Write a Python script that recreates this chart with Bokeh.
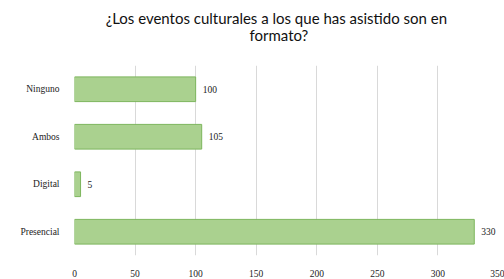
from bokeh.plotting import figure
from bokeh.models import ColumnDataSource, LabelSet, FactorRange, Range1d, FixedTicker, Label
from bokeh.layouts import column
from bokeh.embed import file_html
from bokeh.resources import INLINE

categories = ["Ninguno", "Ambos", "Digital", "Presencial"]
values = [100, 105, 5, 330]
x_ticks = [0, 50, 100, 150, 200, 250, 300, 350]
title_line1 = "¿Los eventos culturales a los que has asistido son en"
title_line2 = "formato?"

# ---- title strip (a small figure whose frame fills it, y measured downwards in px)
th = figure(width=504, height=57, output_backend="svg", toolbar_location=None,
            x_range=Range1d(0, 504), y_range=Range1d(57, 0),
            min_border_left=0, min_border_right=0, min_border_top=0,
            min_border_bottom=0, title=None)
th.axis.visible = False
th.grid.grid_line_color = None
th.outline_line_color = None
th.background_fill_color = "white"
th.border_fill_color = "white"
for txt, tx, ty in ((title_line1, 240, 17), (title_line2, 243, 34)):
    th.add_layout(Label(x=tx, y=ty, text=txt, text_align="center",
                        text_baseline="middle", text_font="Lato",
                        text_font_size="15px", text_color="#111111"))

# ---- bar chart
source = ColumnDataSource(data=dict(cat=categories, val=values,
                                    lbl=[str(v) for v in values]))

p = figure(width=504, height=222, output_backend="svg", toolbar_location=None,
           y_range=FactorRange(factors=categories[::-1], range_padding=0),
           x_range=Range1d(0, 350),
           frame_width=424, frame_height=190,
           min_border_left=74, min_border_right=6, min_border_top=8,
           min_border_bottom=10, title=None)

p.hbar(y="cat", right="val", left=0, height=0.52, source=source,
       fill_color="#aad18f", line_color="#7db65d", line_width=1)

labels = LabelSet(x="val", y="cat", text="lbl", source=source, x_offset=7,
                  text_font="Liberation Serif", text_font_size="9.5px",
                  text_baseline="middle", text_align="left", text_color="#222222")
p.add_layout(labels)

p.xaxis.ticker = FixedTicker(ticks=x_ticks)
p.xaxis.axis_line_color = None
p.xaxis.major_tick_line_color = None
p.xaxis.minor_tick_line_color = None
p.xaxis.major_label_text_font = "Liberation Serif"
p.xaxis.major_label_text_font_size = "9.5px"
p.xaxis.major_label_text_color = "#222222"
p.xaxis.major_label_standoff = 8

p.yaxis.axis_line_color = None
p.yaxis.major_tick_line_color = None
p.yaxis.minor_tick_line_color = None
p.yaxis.major_label_text_font = "Liberation Serif"
p.yaxis.major_label_text_font_size = "9.5px"
p.yaxis.major_label_text_color = "#222222"
p.yaxis.major_label_standoff = 9

p.ygrid.grid_line_color = None
p.xgrid.grid_line_color = "#d9d9d9"
p.outline_line_color = None
p.background_fill_color = "white"
p.border_fill_color = "white"

layout = column(th, p, spacing=0)
open("out.html", "w").write(file_html(layout, INLINE))
